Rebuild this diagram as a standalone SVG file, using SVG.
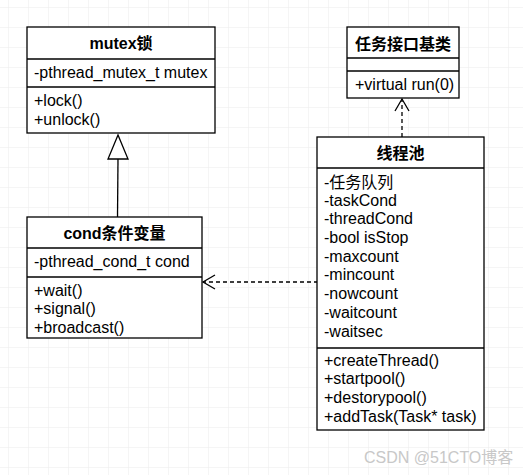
<svg xmlns="http://www.w3.org/2000/svg" width="523" height="475" viewBox="0 0 523 475">
<style>
.box{fill:#fff;stroke:#000;stroke-width:1.3}
.ln{stroke:#000;stroke-width:1.3;fill:none}
.t{font-family:"Liberation Sans","Noto Sans CJK SC",Arial,sans-serif;font-size:16px;fill:#000}
.h{font-family:"Liberation Sans","Noto Sans CJK SC",Arial,sans-serif;font-size:16px;font-weight:bold;fill:#000;text-anchor:middle}
.dash{stroke:#000;stroke-width:1.3;fill:none;stroke-dasharray:4 3}
</style>
<defs>
<pattern id="grid" width="20" height="20" patternUnits="userSpaceOnUse" x="8" y="7">
<path d="M0 0H20M0 0V20" stroke="#ececec" stroke-width="1" fill="none"/>
</pattern>
</defs>
<rect width="523" height="475" fill="#fff"/>
<rect width="523" height="475" fill="url(#grid)"/>
<g id="connectors">
<line class="ln" x1="117.5" y1="217" x2="118" y2="159"/>
<polygon points="118,135 108,159 128,159" fill="#fff" stroke="#000" stroke-width="1.3"/>
<line class="dash" x1="318" y1="282" x2="203" y2="282"/>
<polyline class="ln" points="215,275 203,282 215,289"/>
<line class="dash" x1="402" y1="137" x2="402" y2="99"/>
<polyline class="ln" points="395,111 402,99 409,111"/>
</g>
<g id="mutex">
<rect class="box" x="27" y="27" width="188" height="106"/>
<line class="ln" x1="27" y1="59" x2="215" y2="59"/>
<line class="ln" x1="27" y1="87" x2="215" y2="87"/>
<text class="h" x="121" y="49">mutex锁</text>
<text class="t" x="34" y="78">-pthread_mutex_t mutex</text>
<text class="t" x="34" y="106">+lock()</text>
<text class="t" x="34" y="125">+unlock()</text>
</g>
<g id="cond">
<rect class="box" x="27" y="217" width="175" height="121"/>
<line class="ln" x1="27" y1="248" x2="202" y2="248"/>
<line class="ln" x1="27" y1="277" x2="202" y2="277"/>
<text class="h" x="114.5" y="239">cond条件变量</text>
<text class="t" x="34" y="267">-pthread_cond_t cond</text>
<text class="t" x="34" y="295.5">+wait()</text>
<text class="t" x="34" y="314">+signal()</text>
<text class="t" x="34" y="332.5">+broadcast()</text>
</g>
<g id="task">
<rect class="box" x="347" y="27" width="112" height="71"/>
<line class="ln" x1="347" y1="58" x2="459" y2="58"/>
<line class="ln" x1="347" y1="71" x2="459" y2="71"/>
<text class="h" x="403" y="50">任务接口基类</text>
<text class="t" x="355" y="89.5">+virtual run(0)</text>
</g>
<g id="pool">
<rect class="box" x="317" y="137" width="167" height="293"/>
<line class="ln" x1="317" y1="168" x2="484" y2="168"/>
<line class="ln" x1="317" y1="348" x2="484" y2="348"/>
<text class="h" x="400.5" y="159">线程池</text>
<text class="t" x="324" y="187.5">-任务队列</text>
<text class="t" x="324" y="205.5">-taskCond</text>
<text class="t" x="324" y="224">-threadCond</text>
<text class="t" x="324" y="242.5">-bool isStop</text>
<text class="t" x="324" y="261.5">-maxcount</text>
<text class="t" x="324" y="280">-mincount</text>
<text class="t" x="324" y="298.5">-nowcount</text>
<text class="t" x="324" y="318">-waitcount</text>
<text class="t" x="324" y="336.5">-waitsec</text>
<text class="t" x="324" y="365.5">+createThread()</text>
<text class="t" x="324" y="384">+startpool()</text>
<text class="t" x="324" y="402.5">+destorypool()</text>
<text class="t" x="324" y="421.5">+addTask(Task* task)</text>
</g>
<text x="364" y="463" style="font-family:'Liberation Sans','Noto Sans CJK SC',sans-serif;font-size:16px;fill:#c8c8c8">CSDN @51CTO博客</text>
</svg>
